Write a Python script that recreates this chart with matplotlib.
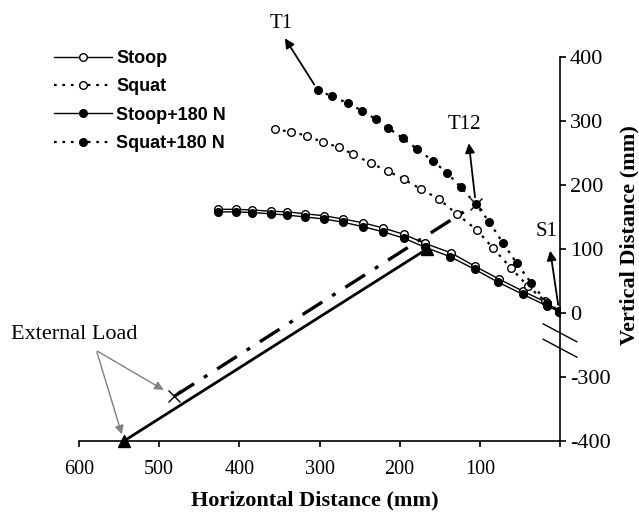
import numpy as np
import matplotlib
matplotlib.use('Agg')
import matplotlib.pyplot as plt
import matplotlib.transforms as mtransforms

###############################################################################

# spine positions (mm)
stoop_x = [426, 404, 384, 361, 340, 318, 295, 271, 246, 221, 195, 169, 136,
           106, 76, 46, 16, 1]
stoop_y = [162, 162, 161, 159, 158, 155, 152, 147, 141, 133, 123, 109, 94,
           73, 53, 34, 16, 2]

stoop_load_x = [426, 404, 384, 361, 340, 318, 295, 271, 246, 221, 195, 169,
                137, 106, 77, 46, 16, 1]
stoop_load_y = [158, 158, 157, 155, 153, 150, 147, 142, 135, 127, 117, 103,
                88, 68, 48, 29, 11, 2]

squat_x = [356, 335, 316, 296, 276, 258, 236, 215, 195, 174, 151, 129, 104,
           84, 61, 40, 19, 1]
squat_y = [287, 283, 277, 267, 259, 248, 234, 222, 209, 194, 178, 155, 130,
           102, 70, 42, 19, 3]

squat_load_x = [302, 285, 265, 247, 230, 214, 196, 178, 159, 141, 124, 105,
                88, 71, 54, 36, 16, 1]
squat_load_y = [348, 339, 328, 316, 303, 289, 273, 256, 238, 219, 197, 170,
                142, 109, 78, 47, 16, 3]

# external load lines: (hand position, T12 / lumbar point)
stoop_arm_x = [544, 166]
stoop_arm_y = [-400, 100]
squat_arm_x = [481, 105]
squat_arm_y = [-330, 170]

xticks = [600, 500, 400, 300, 200, 100, 0]
xtick_labels = ['600', '500', '400', '300', '200', '100', '']
yticks = [-400, -300, 0, 100, 200, 300, 400]

# the y axis is broken between 0 and -300
BREAK_SHIFT = 200


def fold(v):
    v = np.asarray(v, dtype=float)
    return np.where(v < 0, v + BREAK_SHIFT, v)


###############################################################################

if __name__ == "__main__":

    serif = 'Liberation Serif'
    sans = 'Liberation Sans'

    fig = plt.figure(figsize=(6.39, 5.14), dpi=100)
    ax = fig.add_axes([79 / 639, 1 - 441 / 514, 481 / 639, 384 / 514])

    ax.plot(stoop_x, fold(stoop_y), color='black', lw=1.0, linestyle='-',
            marker='o', ms=5.5, mfc='white', mec='black', mew=1.0,
            label='Stoop', zorder=3)
    ax.plot(squat_x, fold(squat_y), color='black', lw=1.6,
            linestyle=(0, (1.2, 2.6)), marker='o', ms=5.5, mfc='white',
            mec='black', mew=1.0, label='Squat', zorder=3)
    ax.plot(stoop_load_x, fold(stoop_load_y), color='black', lw=1.0,
            linestyle='-', marker='o', ms=5.5, mfc='black', mec='black',
            label='Stoop+180 N', zorder=3)
    ax.plot(squat_load_x, fold(squat_load_y), color='black', lw=1.6,
            linestyle=(0, (1.2, 2.6)), marker='o', ms=5.5, mfc='black',
            mec='black', label='Squat+180 N', zorder=3)

    # load lines
    ax.plot(stoop_arm_x, fold(stoop_arm_y), color='black', lw=2.0,
            zorder=2)
    ax.plot(stoop_arm_x, fold(stoop_arm_y), color='black', lw=0,
            marker='^', ms=9, zorder=4, clip_on=False)
    ax.plot(squat_arm_x, fold(squat_arm_y), color='black', lw=2.4,
            linestyle=(0, (7, 3.5, 1.2, 3.5)), zorder=2)
    ax.plot(squat_arm_x, fold(squat_arm_y), color='black', lw=0,
            marker='x', ms=9, mew=1.0, zorder=4)

    # landmark labels (arrow drawn from the point outward)
    arrow = dict(arrowstyle='<|-', color='black', lw=1.3,
                 mutation_scale=14, shrinkA=0, shrinkB=5)
    landmarks = [('T1', squat_load_x[0], squat_load_y[0], (-33, 52), 15),
                 ('T12', squat_arm_x[1], squat_arm_y[1], (-7, 61), 19),
                 ('S1', stoop_x[-1], stoop_y[-1], (-9, 61), 19)]
    for name, px, py, (dx, dy), gap in landmarks:
        ax.annotate('', xy=(px, py), xytext=(dx, dy),
                    textcoords='offset pixels', arrowprops=arrow,
                    annotation_clip=False)
        ax.annotate(name, xy=(px, py), xytext=(dx - 4, dy + gap),
                    textcoords='offset pixels', fontsize=15, family=serif,
                    ha='center', va='center', annotation_clip=False)

    # external load callout
    grey = dict(arrowstyle='-|>', color='#808080', lw=1.0,
                mutation_scale=13, shrinkA=0)
    hand_sq = (squat_arm_x[0], float(fold(squat_arm_y)[0]))
    hand_st = (stoop_arm_x[0], float(fold(stoop_arm_y)[0]))
    ax.annotate('External Load', xy=hand_sq, xytext=(-100, 62),
                textcoords='offset pixels', fontsize=16, family=serif,
                ha='center', va='center', annotation_clip=False)
    ax.annotate('', xy=hand_sq, xytext=(-77, 45),
                textcoords='offset pixels',
                arrowprops=dict(grey, shrinkB=9), annotation_clip=False)
    ax.annotate('', xy=hand_st, xytext=(-27, 89),
                textcoords='offset pixels',
                arrowprops=dict(grey, shrinkB=5), annotation_clip=False)

    # axes styling
    ax.set_xlim(600, 0)
    ax.set_ylim(fold(-400), 400)
    for side in ('top', 'left'):
        ax.spines[side].set_visible(False)
    ax.spines['bottom'].set_linewidth(1.2)
    ax.spines['right'].set_linewidth(1.2)
    ax.yaxis.tick_right()
    ax.yaxis.set_label_position('right')
    ax.set_xticks(xticks)
    ax.set_xticklabels(xtick_labels)
    ax.set_yticks(fold(yticks))
    ax.set_yticklabels([str(t) for t in yticks])
    ax.tick_params(axis='both', direction='out', length=4, width=1.2)
    ax.tick_params(axis='x', labelsize=14.5, pad=10)
    ax.tick_params(axis='y', labelsize=16, pad=3)
    for lab in ax.get_xticklabels() + ax.get_yticklabels():
        lab.set_family(serif)

    # break marks on the right spine
    brk = mtransforms.blended_transform_factory(ax.transAxes, ax.transData)
    for off in (0, -24):
        ax.plot([0.965, 1.035], [-17 + off, -45 + off], color='black',
                lw=1.0, transform=brk, clip_on=False)

    ax.set_xlabel('Horizontal Distance (mm)', fontsize=16, family=serif,
                  fontweight='bold')
    ax.xaxis.set_label_coords(0.49, -0.128)
    ax.set_ylabel('Vertical Distance (mm)', fontsize=16, family=serif,
                  fontweight='bold', rotation=90, va='center')
    ax.yaxis.set_label_coords(1.145, 0.535)

    ax.legend(loc='upper left', bbox_to_anchor=(54 / 639, 1 - 50 / 514),
              bbox_transform=fig.transFigure, frameon=False, numpoints=1,
              handlelength=3.2, handletextpad=0.25, labelspacing=0.63,
              borderpad=0, borderaxespad=0,
              prop={'family': sans, 'weight': 'bold', 'size': 13})

    plt.savefig('out.png', dpi=100)
